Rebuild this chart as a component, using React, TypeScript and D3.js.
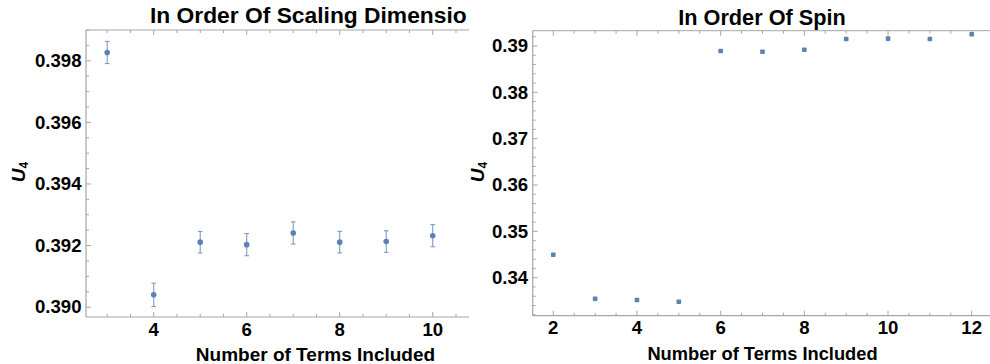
import React from "react";
import * as d3 from "d3";

// Left panel: estimates ordered by scaling dimension, with error bars
const termsByDim = [3, 4, 5, 6, 7, 8, 9, 10];
const u4ByDim = [0.39827, 0.3904, 0.39211, 0.39203, 0.39241, 0.39211, 0.39213, 0.39232];
const errByDim = [0.00036, 0.00038, 0.00035, 0.00036, 0.00036, 0.00035, 0.00035, 0.00036];
const dimXTicks = [4, 6, 8, 10];
const dimYTicks = [0.39, 0.392, 0.394, 0.396, 0.398];

// Right panel: estimates ordered by spin
const termsBySpin = [2, 3, 4, 5, 6, 7, 8, 9, 10, 11, 12];
const u4BySpin = [0.34496, 0.33547, 0.33519, 0.33482, 0.38892, 0.38877, 0.3892, 0.39151, 0.39158, 0.39151, 0.39252];
const spinXTicks = [2, 4, 6, 8, 10, 12];
const spinYTicks = [0.34, 0.35, 0.36, 0.37, 0.38, 0.39];

const FONT = "'Liberation Sans', Arial, sans-serif";
const AXIS = "#a6a6a6";
const POINT = "#5e81b5";
const BAR = "#7f9ac6";

type PanelProps = {
  x: d3.ScaleLinear<number, number>;
  y: d3.ScaleLinear<number, number>;
  xTicks: number[];
  xMinorStep: number;
  yTicks: number[];
  yMinorStep: number;
  yFormat: (v: number) => string;
  tickSize: number;
  labelBaseline: number;
};

function Frame({ x, y, xTicks, xMinorStep, yTicks, yMinorStep, yFormat, tickSize, labelBaseline }: PanelProps) {
  const [x0, x1] = x.range();
  const [y0, y1] = y.range(); // y0 = bottom, y1 = top
  const [dx0, dx1] = x.domain();
  const [dy0, dy1] = y.domain();
  const eps = 1e-9;
  const xMinor = d3.range(Math.ceil(dx0 / xMinorStep) * xMinorStep, dx1 + eps, xMinorStep);
  const yMinor = d3.range(Math.ceil(dy0 / yMinorStep - eps) * yMinorStep, dy1 + eps, yMinorStep);
  const isMajor = (v: number, ticks: number[], step: number) => ticks.some((t) => Math.abs(t - v) < step / 10);
  return (
    <g>
      <line x1={x0} x2={x1} y1={y0} y2={y0} stroke={AXIS} strokeWidth={1.2} />
      <line x1={x0} x2={x1} y1={y1} y2={y1} stroke={AXIS} strokeWidth={1} />
      <line x1={x0} x2={x0} y1={y0} y2={y1} stroke={AXIS} strokeWidth={1.2} />
      {xMinor.map((v, i) => {
        const len = isMajor(v, xTicks, xMinorStep) ? 5 : 3;
        const px = x(v);
        return (
          <g key={"xm" + i}>
            <line x1={px} x2={px} y1={y0} y2={y0 - len} stroke={AXIS} />
            <line x1={px} x2={px} y1={y1} y2={y1 + len} stroke={AXIS} />
          </g>
        );
      })}
      {yMinor.map((v, i) => {
        const len = isMajor(v, yTicks, yMinorStep) ? 5 : 3;
        const py = y(v);
        return <line key={"ym" + i} x1={x0} x2={x0 + len} y1={py} y2={py} stroke={AXIS} />;
      })}
      {xTicks.map((t) => (
        <text key={"xt" + t} x={x(t)} y={labelBaseline} textAnchor="middle" fontFamily={FONT} fontWeight="bold" fontSize={tickSize} fill="#000">
          {t}
        </text>
      ))}
      {yTicks.map((t) => (
        <text key={"yt" + t} x={x0 - 4.5} y={y(t) + 6.3} textAnchor="end" fontFamily={FONT} fontWeight="bold" fontSize={tickSize} fill="#000">
          {yFormat(t)}
        </text>
      ))}
    </g>
  );
}

function YLabel({ cx, cy }: { cx: number; cy: number }) {
  return (
    <text transform={`translate(${cx},${cy}) rotate(-90)`} textAnchor="middle" fontFamily={FONT} fontWeight="bold" fill="#000">
      <tspan fontStyle="italic" fontSize={19}>U</tspan>
      <tspan fontSize={12} dy={3}>4</tspan>
    </text>
  );
}

export default function App() {
  // Left panel scales
  const xL = d3.scaleLinear().domain([2.544, 10.78]).range([86, 469]);
  const yL = d3.scaleLinear().domain([0.38968, 0.399]).range([317, 30]);
  // Right panel scales
  const xR = d3.scaleLinear().domain([1.508, 12.437]).range([532.7, 990]);
  const yR = d3.scaleLinear().domain([0.3318, 0.3933]).range([315.7, 30.7]);

  const fmt3 = d3.format(".3f");
  const fmt2 = d3.format(".2f");

  return (
    <svg width={990} height={364} style={{ position: "absolute", left: 0, top: 0, background: "#fff" }}>
      <rect width={990} height={364} fill="#fff" />

      {/* Left panel */}
      <Frame x={xL} y={yL} xTicks={dimXTicks} xMinorStep={0.5} yTicks={dimYTicks} yMinorStep={0.0005} yFormat={fmt3} tickSize={18.6} labelBaseline={335.5} />
      {termsByDim.map((t, i) => {
        const px = xL(t);
        const top = yL(u4ByDim[i] + errByDim[i]);
        const bot = yL(u4ByDim[i] - errByDim[i]);
        return (
          <g key={"d" + t}>
            <line x1={px} x2={px} y1={top} y2={bot} stroke={BAR} strokeWidth={1.1} />
            <line x1={px - 2.3} x2={px + 2.3} y1={top} y2={top} stroke={BAR} strokeWidth={1.1} />
            <line x1={px - 2.3} x2={px + 2.3} y1={bot} y2={bot} stroke={BAR} strokeWidth={1.1} />
            <circle cx={px} cy={yL(u4ByDim[i])} r={2.8} fill={POINT} />
          </g>
        );
      })}
      <text x={150} y={23} fontFamily={FONT} fontWeight="bold" fontSize={22.8} fill="#000">
        In Order Of Scaling Dimensio
      </text>
      <text x={315.5} y={360.5} textAnchor="middle" fontFamily={FONT} fontWeight="bold" fontSize={19} fill="#000">
        Number of Terms Included
      </text>
      <YLabel cx={25} cy={172} />

      {/* Right panel */}
      <Frame x={xR} y={yR} xTicks={spinXTicks} xMinorStep={0.5} yTicks={spinYTicks} yMinorStep={0.002} yFormat={fmt2} tickSize={18.6} labelBaseline={334} />
      {termsBySpin.map((t, i) => (
        <rect key={"s" + t} x={xR(t) - 2.3} y={yR(u4BySpin[i]) - 2.3} width={4.6} height={4.6} rx={0.8} fill={POINT} />
      ))}
      <text x={762} y={25} textAnchor="middle" fontFamily={FONT} fontWeight="bold" fontSize={21.7} fill="#000">
        In Order Of Spin
      </text>
      <text x={762.5} y={359.5} textAnchor="middle" fontFamily={FONT} fontWeight="bold" fontSize={18.3} fill="#000">
        Number of Terms Included
      </text>
      <YLabel cx={484} cy={172} />
    </svg>
  );
}
